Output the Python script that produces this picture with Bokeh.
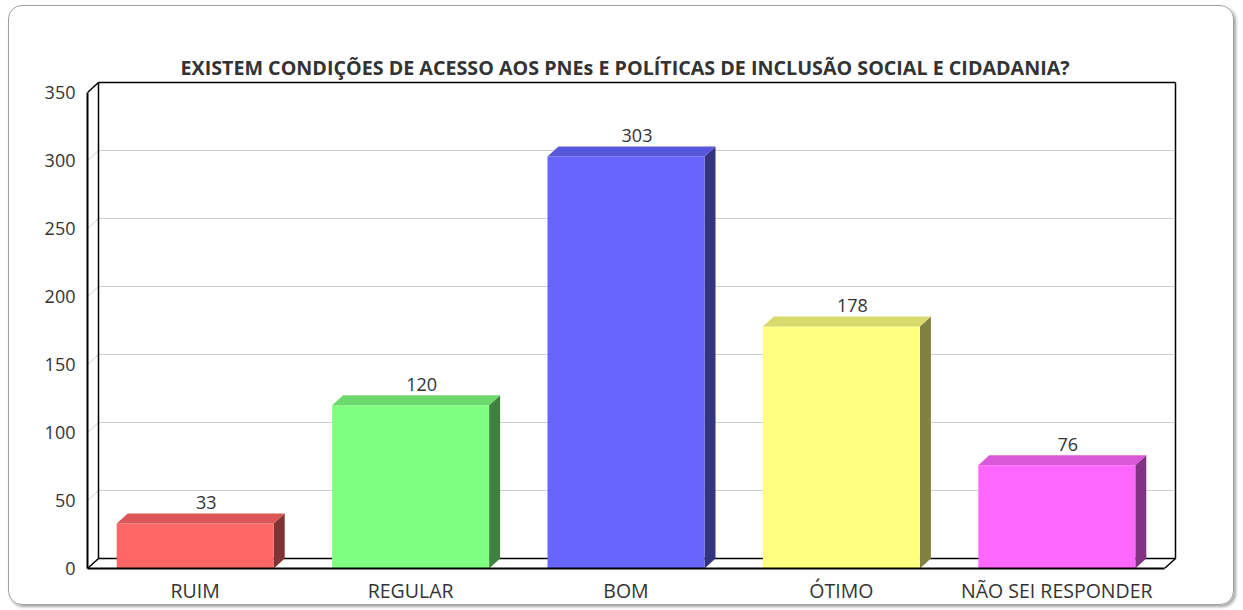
from bokeh.plotting import figure
from bokeh.models import Range1d, FixedTicker
from bokeh.embed import file_html
from bokeh.resources import INLINE
from bokeh.core.properties import value

# ---------------- data ----------------
title_text = "EXISTEM CONDIÇÕES DE ACESSO AOS PNEs E POLÍTICAS DE INCLUSÃO SOCIAL E CIDADANIA?"
categories = ["RUIM", "REGULAR", "BOM", "ÓTIMO", "NÃO SEI RESPONDER"]
counts = [33, 120, 303, 178, 76]
front_colors = ["#FF6666", "#80FF80", "#6666FF", "#FFFF80", "#FF66FF"]
top_colors = ["#D95757", "#6DD96D", "#5757D9", "#D9D96D", "#D957D9"]
side_colors = ["#803333", "#408040", "#333380", "#808040", "#803380"]
y_ticks = [0, 50, 100, 150, 200, 250, 300, 350]

# ---------------- geometry (pixels) ----------------
W, H = 1226, 600
ML, MR, MT, MB = 78, 58, 74, 38
FW = W - ML - MR
FH = H - MT - MB
DX, DY, PAD = 11, 10, 2
BAR_PX = 157
N = len(categories)
YMAX = y_ticks[-1]
ppx = (FW - DX - PAD) / N
ppy = (FH - DY - PAD) / YMAX
dx = DX / ppx
dy = DY / ppy
bw = BAR_PX / ppx

FONT = "Open Sans"
TXT = "#333333"

p = figure(width=W, height=H, output_backend="svg", toolbar_location=None,
           x_range=Range1d(-0.5, N - 0.5 + (DX + PAD) / ppx),
           y_range=Range1d(0, YMAX + (DY + PAD) / ppy),
           min_border_left=ML, min_border_right=MR, min_border_top=MT, min_border_bottom=MB,
           title=title_text)
p.styles = {"border": "1px solid #a0a0a0", "border-radius": "14px",
            "box-shadow": "2px 2px 3px rgba(0,0,0,0.35)", "overflow": "hidden",
            "margin-left": "8px", "margin-top": "5px"}
p.border_fill_alpha = 0
p.background_fill_color = "white"
p.outline_line_color = None
p.xgrid.visible = False
p.ygrid.visible = False

p.title.align = "left"
p.title.offset = 93
p.title.text_font = FONT
p.title.text_font_size = "19.7px"
p.title.text_font_style = "bold"
p.title.text_color = TXT
p.title.standoff = 0

# y axis
yax = p.yaxis[0]
yax.ticker = FixedTicker(ticks=y_ticks)
yax.bounds = (0, YMAX)
yax.axis_line_color = "#000000"
yax.axis_line_width = 2
yax.major_tick_line_color = None
yax.major_tick_out = 0
yax.major_tick_in = 0
yax.minor_tick_line_color = None
yax.major_label_standoff = 12
yax.major_label_text_font = FONT
yax.major_label_text_font_size = "18px"
yax.major_label_text_color = TXT

# x axis
xax = p.xaxis[0]
xax.ticker = FixedTicker(ticks=list(range(N)))
xax.major_label_overrides = {i: c for i, c in enumerate(categories)}
xax.bounds = (-0.5, N - 0.5)
xax.axis_line_color = "#000000"
xax.axis_line_width = 2
xax.major_tick_line_color = None
xax.major_tick_out = 0
xax.major_tick_in = 0
xax.minor_tick_line_color = None
xax.major_label_standoff = 8
xax.major_label_text_font = FONT
xax.major_label_text_font_size = "19.5px"
xax.major_label_text_color = TXT

xl, xr = -0.5, N - 0.5

# gridlines on back wall and left wall
gv = [t for t in y_ticks if 0 < t < YMAX]
p.segment(x0=[xl + dx] * len(gv), y0=[t + dy for t in gv], x1=[xr + dx] * len(gv), y1=[t + dy for t in gv],
          line_color="#d0d0d0", line_width=1)
p.segment(x0=[xl] * len(gv), y0=gv, x1=[xl + dx] * len(gv), y1=[t + dy for t in gv],
          line_color="#d0d0d0", line_width=1)

# wall frame lines
wx0 = [xl, xl + dx, xl + dx, xr + dx, xl + dx, xl, xr]
wy0 = [YMAX, dy, YMAX + dy, dy, dy, 0, 0]
wx1 = [xl + dx, xl + dx, xr + dx, xr + dx, xr + dx, xl + dx, xr + dx]
wy1 = [YMAX + dy, YMAX + dy, YMAX + dy, YMAX + dy, dy, dy, dy]
p.segment(x0=wx0, y0=wy0, x1=wx1, y1=wy1, line_color="#000000", line_width=1.5)

# bars
side_xs, side_ys, front_xs, front_ys, top_xs, top_ys = [], [], [], [], [], []
for i, v in enumerate(counts):
    l, r = i - bw / 2, i + bw / 2
    side_xs.append([r, r + dx, r + dx, r]); side_ys.append([0, dy, v + dy, v])
    front_xs.append([l, r, r, l]); front_ys.append([0, 0, v, v])
    top_xs.append([l, r, r + dx, l + dx]); top_ys.append([v, v, v + dy, v + dy])

p.patches(side_xs, side_ys, fill_color=side_colors, line_color=None)
p.patches(front_xs, front_ys, fill_color=front_colors, line_color=None)
p.patches(top_xs, top_ys, fill_color=top_colors, line_color=None)

# value labels
p.text(x=[i + dx for i in range(N)], y=[v + dy for v in counts], text=[str(v) for v in counts],
       text_align="center", text_baseline="alphabetic", y_offset=-11,
       text_font=value(FONT), text_font_size="18px", text_color=TXT)

open("out.html", "w").write(file_html(p, INLINE))
